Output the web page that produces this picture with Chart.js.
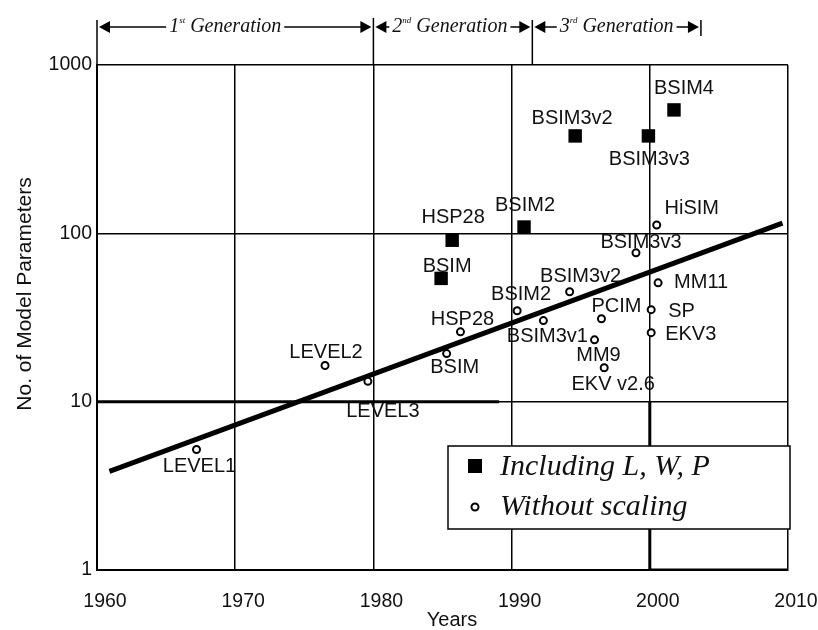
<!DOCTYPE html>
<html><head><meta charset="utf-8">
<script src="https://cdn.jsdelivr.net/npm/chart.js@4"></script>
<style>html,body{margin:0;padding:0;background:#fff;overflow:hidden}#c{display:block}</style>
</head><body>
<canvas id="c" width="818" height="630"></canvas>
<script>
// ---------------- DATA ----------------
const scaledNames  = ['BSIM','HSP28','BSIM2','BSIM3v2','BSIM3v3','BSIM4'];
const scaledYears  = [1984.9, 1985.7, 1990.9, 1994.6, 1999.9, 2001.75];
const scaledParams = [54, 91, 109, 379, 379, 541];

const unscaledNames  = ['LEVEL1','LEVEL2','LEVEL3','BSIM','HSP28','BSIM2','BSIM3v1','BSIM3v2','MM9','PCIM','EKV v2.6','BSIM3v3','SP','EKV3','MM11','HiSIM'];
const unscaledYears  = [1967.2, 1976.5, 1979.6, 1985.3, 1986.3, 1990.4, 1992.3, 1994.2, 1996.0, 1996.5, 1996.7, 1999.0, 2000.1, 2000.1, 2000.6, 2000.5];
const unscaledParams = [5.2, 16.4, 13.2, 19.3, 26, 34.7, 30.3, 45, 23.3, 31.1, 15.9, 76.6, 35.2, 25.7, 50.8, 112];

const trendYears  = [1960.9, 2009.6];
const trendParams = [3.85, 115];

const refYears  = [1960, 1989.1];
const refParams = [10, 10];
const edgeYears  = [2000, 2000, 2010];
const edgeParams = [10, 1, 1];

const seriesLabels = ['Including L, W, P', 'Without scaling'];
const generationNumbers = ['1', '2', '3'];
const generationSups    = ['st', 'nd', 'rd'];
const generationWord    = 'Generation';
const generationBounds  = [1960, 1980, 1991.5, 2003.7];

const xTicks = [1960, 1970, 1980, 1990, 2000, 2010];
const yTicks = [1, 10, 100, 1000];
const xTitle = 'Years';
const yTitle = 'No. of Model Parameters';

// ---------------- STYLE (label offsets in px) ----------------
const scaledLabelStyle = [[6,-12,'center'],[1,-23,'center'],[1,-22,'center'],[-3,-17,'center'],[1,24,'center'],[10,-21,'center']];
const unscaledLabelStyle = [[3,17,'center'],[1,-13,'center'],[15,30,'center'],[8,14,'center'],[2,-12,'center'],[4,-16,'center'],
  [4,16,'center'],[11,-15,'center'],[4,16,'center'],[15,-12,'center'],[9,17,'center'],[5,-10,'center'],
  [17,2,'left'],[14,2,'left'],[16,0,'left'],[35,-17,'center']];
const genTextShift = [-10, -3, 0];

const zip = (xs, ys) => xs.map((x, i) => ({x, y: ys[i]}));
const SANS = '"Liberation Sans", Arial, sans-serif';
const SERIF = '"Liberation Serif", "Times New Roman", serif';

const decor = {
  id: 'decor',
  afterDatasetsDraw(chart) {
    const ctx = chart.ctx, xs = chart.scales.x, ys = chart.scales.y;
    ctx.save();
    ctx.font = '20px ' + SANS;
    ctx.fillStyle = '#111';
    ctx.textBaseline = 'middle';
    const draw = (names, yrs, vals, st) => names.forEach((n, i) => {
      const px = xs.getPixelForValue(yrs[i]), py = ys.getPixelForValue(vals[i]);
      const s = st[i];
      ctx.textAlign = s[2];
      ctx.fillText(n, px + s[0], py + s[1]);
    });
    draw(scaledNames, scaledYears, scaledParams, scaledLabelStyle);
    draw(unscaledNames, unscaledYears, unscaledParams, unscaledLabelStyle);
    ctx.restore();
  },
  afterDraw(chart) {
    const ctx = chart.ctx, xs = chart.scales.x, ca = chart.chartArea;
    ctx.save();
    // legend box
    const L = 448, T = 446, R = ca.right + 2, B = 529;
    ctx.fillStyle = '#fff';
    ctx.fillRect(L, T, R - L, B - T);
    ctx.strokeStyle = '#000'; ctx.lineWidth = 1.5;
    ctx.strokeRect(L, T, R - L, B - T);
    ctx.fillStyle = '#000';
    ctx.fillRect(468, 459, 14, 14);
    ctx.beginPath(); ctx.arc(475, 507, 3.5, 0, Math.PI * 2);
    ctx.fillStyle = '#fff'; ctx.fill(); ctx.lineWidth = 2; ctx.strokeStyle = '#000'; ctx.stroke();
    ctx.fillStyle = '#111';
    ctx.font = 'italic 30px ' + SERIF;
    ctx.textAlign = 'left'; ctx.textBaseline = 'middle';
    ctx.fillText(seriesLabels[0], 500, 467);
    ctx.fillText(seriesLabels[1], 500, 507);

    // axis titles
    ctx.font = '20px ' + SANS;
    ctx.textAlign = 'center';
    ctx.fillText(xTitle, 452, 620);
    ctx.save();
    ctx.translate(25, 294); ctx.rotate(-Math.PI / 2);
    ctx.font = '21px ' + SANS;
    ctx.fillText(yTitle, 0, 0);
    ctx.restore();

    // generation annotation
    const ay = 27;
    const bx = generationBounds.map(v => xs.getPixelForValue(v));
    ctx.strokeStyle = '#000'; ctx.fillStyle = '#000'; ctx.lineWidth = 1.5;
    const vline = (x, y0, y1) => { ctx.beginPath(); ctx.moveTo(x, y0); ctx.lineTo(x, y1); ctx.stroke(); };
    vline(bx[0], 20, ca.top); vline(bx[1], 18, ca.top); vline(bx[2], 20, ca.top); vline(bx[3], 20, 36);
    const head = (tip, dir) => {
      ctx.beginPath(); ctx.moveTo(tip, ay); ctx.lineTo(tip - dir * 11, ay - 6); ctx.lineTo(tip - dir * 11, ay + 6); ctx.closePath(); ctx.fill();
    };
    const hline = (a, b) => { if (b > a) { ctx.beginPath(); ctx.moveTo(a, ay); ctx.lineTo(b, ay); ctx.stroke(); } };
    for (let g = 0; g < 3; g++) {
      const x0 = bx[g] + 2, x1 = bx[g + 1] - 2;
      head(x0, -1); head(x1, 1);
      ctx.font = 'italic 20px ' + SERIF;
      const wNum = ctx.measureText(generationNumbers[g]).width;
      const wWord = ctx.measureText(' ' + generationWord).width;
      ctx.font = 'italic 9px ' + SERIF;
      const wSup = ctx.measureText(generationSups[g]).width;
      const total = wNum + wSup + wWord;
      const cx = (bx[g] + bx[g + 1]) / 2 + genTextShift[g];
      let tx = cx - total / 2;
      hline(x0 + 10, tx - 3);
      hline(tx + total + 3, x1 - 10);
      ctx.textAlign = 'left'; ctx.textBaseline = 'middle';
      ctx.font = 'italic 20px ' + SERIF;
      ctx.fillStyle = '#111';
      ctx.fillText(generationNumbers[g], tx, ay);
      ctx.font = 'italic 9px ' + SERIF;
      ctx.fillText(generationSups[g], tx + wNum, ay - 6);
      ctx.font = 'italic 20px ' + SERIF;
      ctx.fillText(' ' + generationWord, tx + wNum + wSup, ay);
      ctx.fillStyle = '#000';
    }
    ctx.restore();
  }
};

Chart.defaults.font.family = SANS;
Chart.defaults.color = '#111';

new Chart(document.getElementById('c'), {
  type: 'scatter',
  data: {
    datasets: [
      { label: seriesLabels[0], data: zip(scaledYears, scaledParams), pointStyle: 'rect', pointRadius: 9.5,
        backgroundColor: '#000', borderColor: '#000', borderWidth: 0, order: 0 },
      { label: seriesLabels[1], data: zip(unscaledYears, unscaledParams), pointStyle: 'circle', pointRadius: 3.5,
        backgroundColor: '#fff', borderColor: '#000', borderWidth: 2, order: 0 },
      { label: 'trend', type: 'line', data: zip(trendYears, trendParams), showLine: true, pointRadius: 0,
        borderColor: '#000', borderWidth: 5, order: 3 },
      { label: 'ref', type: 'line', data: zip(refYears, refParams), showLine: true, pointRadius: 0,
        borderColor: '#000', borderWidth: 3, order: 4 },
      { label: 'edge', type: 'line', data: zip(edgeYears, edgeParams), showLine: true, pointRadius: 0,
        borderColor: '#000', borderWidth: 3, order: 4 }
    ]
  },
  options: {
    responsive: false, animation: false, devicePixelRatio: 1,
    layout: { padding: { top: 65, right: 30, left: 0, bottom: 0 } },
    plugins: { legend: { display: false }, tooltip: { enabled: false } },
    elements: { line: { tension: 0 } },
    scales: {
      x: {
        type: 'linear', min: 1960, max: 2010,
        afterBuildTicks: s => { s.ticks = xTicks.map(v => ({value: v})); },
        afterFit: s => { s.height = 60; s.paddingLeft = 0; s.paddingRight = 0; },
        grid: { color: '#000', lineWidth: 1.5, drawTicks: false },
        border: { color: '#000', width: 2 },
        ticks: { padding: 20, labelOffset: 8, font: { size: 19.5 }, color: '#111', callback: v => String(v) }
      },
      y: {
        type: 'logarithmic', min: 1, max: 1000,
        afterBuildTicks: s => { s.ticks = yTicks.map(v => ({value: v})); },
        afterFit: s => { s.width = 97; s.paddingTop = 0; s.paddingBottom = 0; },
        grid: { color: '#000', lineWidth: 1.5, drawTicks: false },
        border: { color: '#000', width: 2 },
        ticks: { padding: 5, font: { size: 19.5 }, color: '#111', callback: v => String(v) }
      }
    }
  },
  plugins: [decor]
});
</script>
</body></html>
